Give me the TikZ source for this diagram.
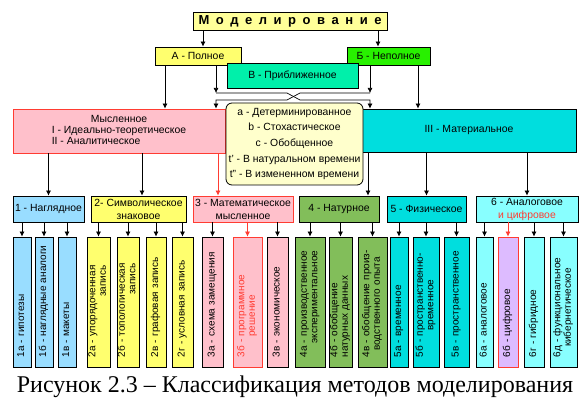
\documentclass[tikz,border=0pt]{standalone}
\usepackage{fontspec}
\setmainfont{Liberation Sans}
\newfontfamily\capfont{Liberation Serif}
\usetikzlibrary{arrows.meta}
\definecolor{cTitle}{RGB}{255,255,153}
\definecolor{cYel}{RGB}{255,255,110}
\definecolor{cGreen}{RGB}{40,240,0}
\definecolor{cAqua}{RGB}{0,240,170}
\definecolor{cPink}{RGB}{255,192,203}
\definecolor{cRed}{RGB}{255,60,50}
\definecolor{cCyan}{RGB}{0,222,222}
\definecolor{cCream}{RGB}{255,255,204}
\definecolor{cSky}{RGB}{153,221,255}
\definecolor{cOlive}{RGB}{130,190,90}
\definecolor{cLcyan}{RGB}{136,255,255}
\definecolor{cLav}{RGB}{221,187,255}
\tikzset{
  box/.style={rectangle,draw=black,line width=0.8pt,fill=#1,inner sep=1pt,
    align=center,font=\fontsize{10.4}{13}\selectfont},
  leaf/.style={rectangle,draw=black,line width=0.8pt,fill=#1,rotate=90,
    minimum width=130pt,text width=111pt,inner xsep=9.5pt,inner ysep=0pt,
    align=left,font=\fontsize{10}{10.5}\selectfont,
    execute at begin node={\parindent=0pt}},
  arr/.style={-{Latex[length=5pt,width=5pt]},line width=0.7pt}
}
\newcommand{\twol}[2]{\begin{tabular}{@{}#1@{}}#2\end{tabular}}

\begin{document}
\begin{tikzpicture}[x=1pt,y=-1pt]
  \fill[white] (0,0) rectangle (586,403);
  \useasboundingbox (0,0) rectangle (586,403);
  % top
  \node[box=cTitle, minimum width=194pt, minimum height=18pt] (title) at (290,21)
    {\bfseries\fontsize{13}{15}\selectfont\makebox[183pt]{М\hfill о\hfill д\hfill е\hfill л\hfill и\hfill р\hfill о\hfill в\hfill а\hfill н\hfill и\hfill е}};
  \node[box=cYel, minimum width=86pt, minimum height=18pt] (pA) at (198,56) {А - Полное};
  \node[box=cGreen, minimum width=83pt, minimum height=18pt] (pB) at (388.5,56) {Б - Неполное};
  \node[box=cAqua, minimum width=131pt, minimum height=25pt] (pV) at (292.5,75.5) {В - Приближенное};
  \draw[arr] ([xshift=5pt]pA.north |- title.south) -- ([xshift=5pt]pA.north);
  \draw[arr] ([xshift=-10.5pt]pB.north |- title.south) -- ([xshift=-10.5pt]pB.north);
  % crossing
  \coordinate (upL) at (216,93);
  \coordinate (upR) at (370,93);
  \coordinate (loL) at (216,100);
  \coordinate (loR) at (370,100);
  \node[box=cPink, draw=cRed, minimum width=212pt, minimum height=44pt,
    font=\fontsize{10.4}{11}\selectfont] (mys) at (119,131)
    {\twol{l}{\multicolumn{1}{@{}c@{}}{Мысленное}\\I - Идеально-теоретическое\\II - Аналитическое}};
  \node[box=cCyan, minimum width=214pt, minimum height=43pt] (mat) at (469,130.5)
    {III - Материальное};
  \draw[arr] ([xshift=18pt]pA.south) -- (upL);
  \draw[arr] ([xshift=-18.5pt]pB.south) -- (upR);
  \draw[arr] ([xshift=-33pt]pA.south) -- ([xshift=-33pt]pA.south |- mys.north);
  \draw[arr] ([xshift=29.5pt]pB.south) -- ([xshift=29.5pt]pB.south |- mat.north);
  \draw[arr] (upL) -- ++(71,0) -- ++(13,7) -- (loR) -- (loR |- mat.north);
  \draw[arr] (upR) -- ++(-70,0) -- ++(-13,7) -- (loL) -- (loL |- mys.north);
  \node[box=cCream, rounded corners=6pt, minimum width=137pt, minimum height=82pt,
    font=\fontsize{10.4}{15.7}\selectfont] (cen) at (294.5,144)
    {a - Детерминированное\\b - Стохастическое\\c - Обобщенное\\t' - В натуральном времени\\t'' - В измененном времени};
  % level 2
  \node[box=cSky, minimum width=71pt, minimum height=26pt] (n1) at (48.5,209) {1 - Наглядное};
  \node[box=cYel, minimum width=95pt, minimum height=26pt] (n2) at (138.5,209) {2- Символическое\\знаковое};
  \node[box=cPink, draw=cRed, minimum width=100pt, minimum height=26pt] (n3) at (243,209) {3 - Математическое\\мысленное};
  \node[box=cOlive, minimum width=80pt, minimum height=26pt] (n4) at (339,209) {4 - Натурное};
  \node[box=cCyan, minimum width=79pt, minimum height=26pt] (n5) at (426.5,209) {5 - Физическое};
  \node[box=cLcyan, minimum width=102pt, minimum height=26pt] (n6) at (527,209) {6 - Аналоговое\\\textcolor{cRed}{и цифровое}};
  \draw[arr] (n1.north |- mys.south) -- (n1.north);
  \draw[arr] ([xshift=3.5pt]n2.north |- mys.south) -- ([xshift=3.5pt]n2.north);
  \draw[arr, draw=cRed] ([xshift=-25pt]n3.north |- mys.south) -- ([xshift=-25pt]n3.north);
  \draw[arr] ([xshift=29pt]n4.north |- mat.south) -- ([xshift=29pt]n4.north);
  \draw[arr] (n5.north |- mat.south) -- (n5.north);
  \draw[arr] (n6.north |- mat.south) -- (n6.north);
  % leaves
  \node[leaf=cSky, minimum height=18pt] (l1a) at (22,302) {\twol{l}{1а - гипотезы}};
  \node[leaf=cSky, minimum height=18pt] (l1b) at (44,302) {\twol{l}{1б - наглядные аналоги}};
  \node[leaf=cSky, minimum height=18pt] (l1c) at (67,302) {\twol{l}{1в - макеты}};
  \node[leaf=cYel, minimum height=23pt] (l2a) at (98.5,302) {\twol{r}{2а - упорядоченная\\запись}};
  \node[leaf=cYel, minimum height=22pt] (l2b) at (128,302) {\twol{r}{2б - топологическая\\запись}};
  \node[leaf=cYel, minimum height=20pt] (l2c) at (156,302) {\twol{l}{2в - графовая запись}};
  \node[leaf=cYel, minimum height=21pt] (l2d) at (182.5,302) {\twol{l}{2г - условная запись}};
  \node[leaf=cPink, minimum height=21pt] (l3a) at (212.5,302) {\twol{l}{3а - схема замещения}};
  \node[leaf=cPink, draw=cRed, text=cRed, minimum height=29pt] (l3b) at (247.5,302) {\twol{c}{3б - программное\\решение}};
  \node[leaf=cPink, minimum height=21pt] (l3c) at (277.5,302) {\twol{l}{3в - экономическое}};
  \node[leaf=cOlive, minimum height=30pt] (l4a) at (310,302) {\twol{r}{4а - производственное\\экспериментальное}};
  \node[leaf=cOlive, minimum height=23pt] (l4b) at (340.5,302) {\twol{l}{4б - обобщение\\натурных данных}};
  \node[leaf=cOlive, minimum height=29pt] (l4c) at (372.5,302) {\twol{c}{4в - обобщение произ-\\водственного опыта}};
  \node[leaf=cCyan, minimum height=18pt] (l5a) at (399,302) {\twol{l}{5а - временное}};
  \node[leaf=cCyan, minimum height=26pt] (l5b) at (426,302) {\twol{c}{5б - пространственно-\\временное}};
  \node[leaf=cCyan, minimum height=25pt] (l5c) at (456.5,302) {\twol{l}{5в - пространственное}};
  \node[leaf=cLcyan, minimum height=17pt] (l6a) at (484.5,302) {\twol{l}{6а - аналоговое}};
  \node[leaf=cLav, draw=cRed, minimum height=20pt] (l6b) at (508,302) {\twol{l}{6б - цифровое}};
  \node[leaf=cLcyan, minimum height=20pt] (l6c) at (534,302) {\twol{l}{6г - гибридное}};
  \node[leaf=cLcyan, minimum height=27pt] (l6d) at (563.5,302) {\twol{c}{6д - функциональное\\кибернетическое}};
  \draw[arr] (l1a.east |- n1.south) -- (l1a.east);
  \draw[arr] (l1b.east |- n1.south) -- (l1b.east);
  \draw[arr] (l1c.east |- n1.south) -- (l1c.east);
  \draw[arr] (l2a.east |- n2.south) -- (l2a.east);
  \draw[arr] (l2b.east |- n2.south) -- (l2b.east);
  \draw[arr] (l2c.east |- n2.south) -- (l2c.east);
  \draw[arr] (l2d.east |- n2.south) -- (l2d.east);
  \draw[arr] (l3a.east |- n3.south) -- (l3a.east);
  \draw[arr, draw=cRed] (l3b.east |- n3.south) -- (l3b.east);
  \draw[arr] (l3c.east |- n3.south) -- (l3c.east);
  \draw[arr] (l4a.east |- n4.south) -- (l4a.east);
  \draw[arr] (l4b.east |- n4.south) -- (l4b.east);
  \draw[arr] (l4c.east |- n4.south) -- (l4c.east);
  \draw[arr] (l5a.east |- n5.south) -- (l5a.east);
  \draw[arr] (l5b.east |- n5.south) -- (l5b.east);
  \draw[arr] (l5c.east |- n5.south) -- (l5c.east);
  \draw[arr] (l6a.east |- n6.south) -- (l6a.east);
  \draw[arr, draw=cRed] (l6b.east |- n6.south) -- (l6b.east);
  \draw[arr] (l6c.east |- n6.south) -- (l6c.east);
  \draw[arr] (l6d.east |- n6.south) -- (l6d.east);
  % caption
  \node[font=\capfont\fontsize{24}{28}\selectfont, inner sep=0pt] (cap) at (295,387)
    {Рисунок 2.3 – Классификация методов моделирования};
\end{tikzpicture}
\end{document}
